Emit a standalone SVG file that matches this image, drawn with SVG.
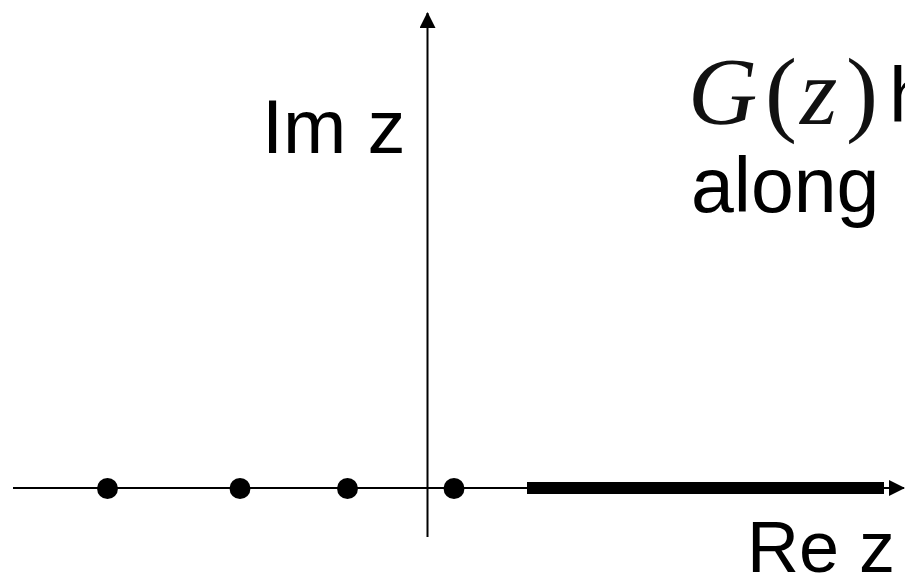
<svg xmlns="http://www.w3.org/2000/svg" width="905" height="578" viewBox="0 0 905 578">
  <style>
    .axis { stroke: #000; stroke-width: 2; fill: none; }
    .dot { fill: #000; }
    .lbl { font-family: "Liberation Sans", Arial, sans-serif; fill: #000; }
    .math { font-family: "Liberation Serif", "Times New Roman", serif; fill: #111; }
  </style>
  <defs>
    <marker id="arr" viewBox="0 0 16 16" refX="15" refY="8" markerWidth="16" markerHeight="16" markerUnits="userSpaceOnUse" orient="auto">
      <path d="M0,0 L16,8 L0,16 Z" fill="#000"/>
    </marker>
  </defs>
  <rect width="905" height="578" fill="#fff"/>
  <g id="connectors">
    <line class="axis" x1="13" y1="488" x2="904" y2="488" marker-end="url(#arr)"/>
    <line class="axis" x1="427.5" y1="537" x2="427.5" y2="13" marker-end="url(#arr)"/>
    <rect id="cut" x="527" y="482" width="357" height="12" fill="#000"/>
  </g>
  <g id="poles">
    <circle class="dot" cx="107.5" cy="488.5" r="10.5"/>
    <circle class="dot" cx="240" cy="488.5" r="10.5"/>
    <circle class="dot" cx="347.5" cy="488.5" r="10.5"/>
    <circle class="dot" cx="454" cy="488.5" r="10.5"/>
  </g>
  <g id="im-label">
    <text class="lbl" x="262" y="153" font-size="76">Im z</text>
  </g>
  <g id="re-label">
    <text class="lbl" x="747" y="572" font-size="72">Re z</text>
  </g>
  <g id="note">
    <text class="math" y="124" font-size="96"><tspan x="688" font-style="italic">G</tspan><tspan x="765">(</tspan><tspan x="800" font-style="italic">z</tspan><tspan x="846">)</tspan></text>
    <text class="lbl" x="889" y="122" font-size="78">h</text>
    <text class="lbl" x="691" y="212" font-size="77">along</text>
  </g>
</svg>
